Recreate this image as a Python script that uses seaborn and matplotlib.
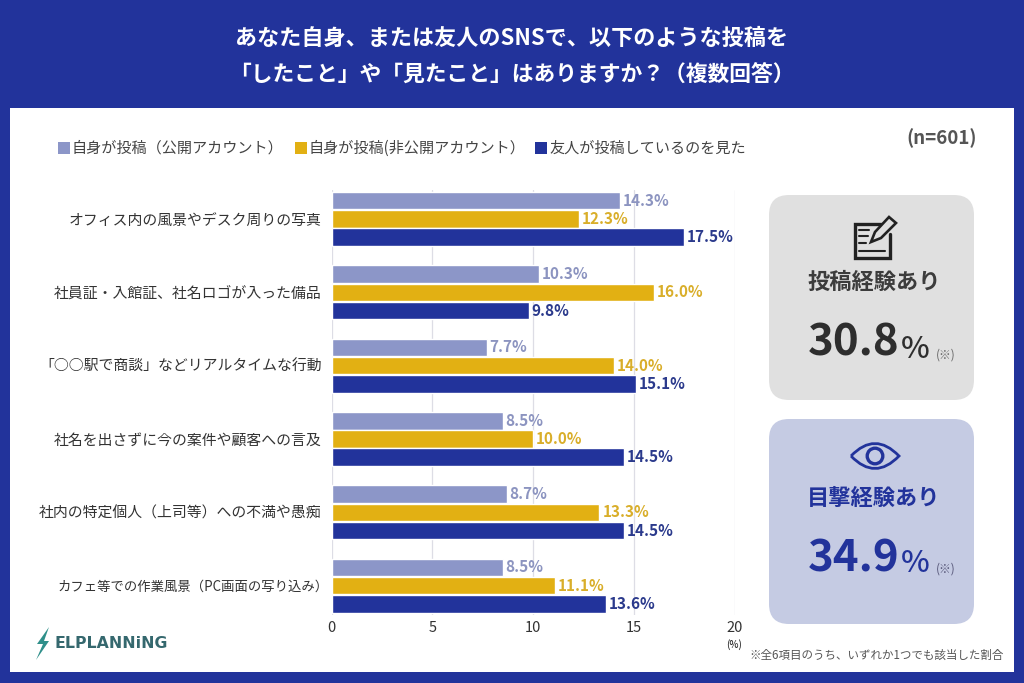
import matplotlib
matplotlib.use("Agg")
import matplotlib.pyplot as plt
from matplotlib.patches import FancyBboxPatch, Rectangle, Polygon, Circle, PathPatch
from matplotlib.path import Path
import seaborn as sns
import pandas as pd

categories = ["オフィス内の風景やデスク周りの写真", "社員証・入館証、社名ロゴが入った備品",
              "「○○駅で商談」などリアルタイムな行動", "社名を出さずに今の案件や顧客への言及",
              "社内の特定個人（上司等）への不満や愚痴", "カフェ等での作業風景（PC画面の写り込み）"]
series_names = ["自身が投稿（公開アカウント）", "自身が投稿(非公開アカウント）", "友人が投稿しているのを見た"]
public_vals = [14.3, 10.3, 7.7, 8.5, 8.7, 8.5]
private_vals = [12.3, 16.0, 14.0, 10.0, 13.3, 11.1]
friend_vals = [17.5, 9.8, 15.1, 14.5, 14.5, 13.6]
bar_colors = ["#8C96C8", "#E2B013", "#22339B"]
label_colors = ["#8C94C0", "#D9AE2A", "#2B3A8C"]
xticks = [0, 5, 10, 15, 20]

sns.set_theme(style="white")
plt.rcParams["font.family"] = ["Noto Sans CJK JP", "DejaVu Sans"]

NAVY = "#22339B"
fig = plt.figure(figsize=(10.24, 6.83), dpi=100, facecolor=NAVY)
W, H = 1024, 683

# full-figure pixel overlay for frame, panels and decoration
bg = fig.add_axes([0, 0, 1, 1], zorder=0)
bg.set_xlim(0, W); bg.set_ylim(H, 0); bg.axis("off")
bg.add_patch(Rectangle((10, 108), 1004, 564, fc="white", ec="none"))

def card(x0, y0, x1, y1, color):
    r = 20
    bg.add_patch(FancyBboxPatch((x0 + r, y0 + r), x1 - x0 - 2 * r, y1 - y0 - 2 * r,
                                boxstyle=f"round,pad={r},rounding_size={r}", fc=color, ec="none"))

card(769, 195, 974, 400, "#E0E0E0")
card(769, 419, 974, 624, "#C5CBE3")

bg.text(512, 38, "あなた自身、または友人のSNSで、以下のような投稿を", color="white", fontsize=15.9,
        fontweight="bold", ha="center", va="center")
bg.text(512, 75, "「したこと」や「見たこと」はありますか？（複数回答）", color="white", fontsize=15.7,
        fontweight="bold", ha="center", va="center")
bg.text(977, 138, "(n=601)", color="#555555", fontsize=13.5, fontweight="bold", ha="right", va="center")

# pencil-and-note icon
DK = "#222222"
bg.plot([881, 854.5, 854.5, 890, 890], [224, 224, 258, 258, 234], color=DK, lw=2.4, solid_joinstyle="miter")
for y, x1 in [(230, 869), (236, 868), (243, 866), (251, 885)]:
    bg.plot([859, x1], [y, y], color=DK, lw=1.5)
bg.add_patch(Polygon([(871, 242), (875, 232), (889, 217), (896, 223), (881, 238)],
                     closed=True, fc="#E0E0E0", ec=DK, lw=1.9, zorder=3))
bg.text(874, 282, "投稿経験あり", color="#3C3C3C", fontsize=16, fontweight="bold", ha="center", va="center")
bg.text(808, 343, "30.8", color="#2E2E2E", fontsize=31.5, fontweight="bold", ha="left", va="center")
bg.text(901, 349, "%", color="#2E2E2E", fontsize=22, fontweight="medium", ha="left", va="center")
bg.text(936, 355, "(※)", color="#666666", fontsize=8.5, ha="left", va="center")

# eye icon
BL = "#22339B"
eye = Path([(851, 456), (875, 431), (899, 456), (875, 481), (851, 456)],
           [Path.MOVETO, Path.CURVE3, Path.CURVE3, Path.CURVE3, Path.CURVE3])
bg.add_patch(PathPatch(eye, fc="none", ec=BL, lw=2.0))
bg.add_patch(Circle((875, 456), 7.8, fc="none", ec=BL, lw=2.4))
bg.text(874, 498, "目撃経験あり", color=BL, fontsize=16, fontweight="bold", ha="center", va="center")
bg.text(808, 558, "34.9", color=BL, fontsize=31.5, fontweight="bold", ha="left", va="center")
bg.text(901, 564, "%", color=BL, fontsize=22, fontweight="medium", ha="left", va="center")
bg.text(936, 569, "(※)", color="#555577", fontsize=8.5, ha="left", va="center")

bg.text(1004, 655, "※全6項目のうち、いずれか1つでも該当した割合", color="#555555", fontsize=8.3, ha="right", va="center")
bg.text(734, 645, "(%)", color="#333333", fontsize=7, fontweight="medium", ha="center", va="center")

# logo
bg.add_patch(Polygon([(49, 627), (37, 644), (43, 644), (36, 660), (49, 641), (44, 641)],
                     closed=True, fc="#2F8F8A", ec="none"))
bg.text(55, 643, "ELPLANNiNG", color="#35686E", fontsize=11.3, fontweight="bold", ha="left", va="center",
        family=["DejaVu Sans"])

# legend drawn as swatch + text
for x, name, c in zip([58, 295, 535], series_names, bar_colors):
    bg.add_patch(Rectangle((x, 142), 11.5, 11.5, fc=c, ec="none"))
    bg.text(x + 14, 148.5, name, color="#444444", fontsize=10.9, ha="left", va="center")

# chart
x0, x1, y0, y1 = 331.5, 734.5, 190, 615
ax = fig.add_axes([x0 / W, 1 - y1 / H, (x1 - x0) / W, (y1 - y0) / H], zorder=2)
ax.patch.set_alpha(0)
df = pd.DataFrame({"cat": categories * 3,
                   "series": sum([[n] * 6 for n in series_names], []),
                   "val": public_vals + private_vals + friend_vals})
sns.barplot(data=df, y="cat", x="val", hue="series", hue_order=series_names, order=categories,
            palette=bar_colors, saturation=1, width=0.746, gap=0.04, legend=False, ax=ax, zorder=3)
ax.set_xlim(0, 20)
ax.set_ylim(5.4, -0.395)
ax.set_xticks(xticks)
ax.set_xlabel(""); ax.set_ylabel("")
ax.grid(axis="x", color="#DDDDE5", lw=0.9)
ax.set_axisbelow(True)
for s in ax.spines.values():
    s.set_visible(False)
ax.tick_params(axis="x", length=0, labelsize=10.5, labelcolor="#333333", pad=4)
ax.tick_params(axis="y", length=0, labelsize=10.7, labelcolor="#333333", pad=7)
# the last label is set tighter in the reference (its brackets are narrow)
last_tick = ax.yaxis.get_major_ticks()[5]
last_tick.label1.set_fontsize(9.6)
last_tick.set_pad(2)
for cont, lc in zip(ax.containers, label_colors):
    ax.bar_label(cont, fmt="%.1f%%", padding=2, color=lc, fontsize=11, fontweight="bold", zorder=4)

fig.savefig("out.png", dpi=100, facecolor=NAVY)
